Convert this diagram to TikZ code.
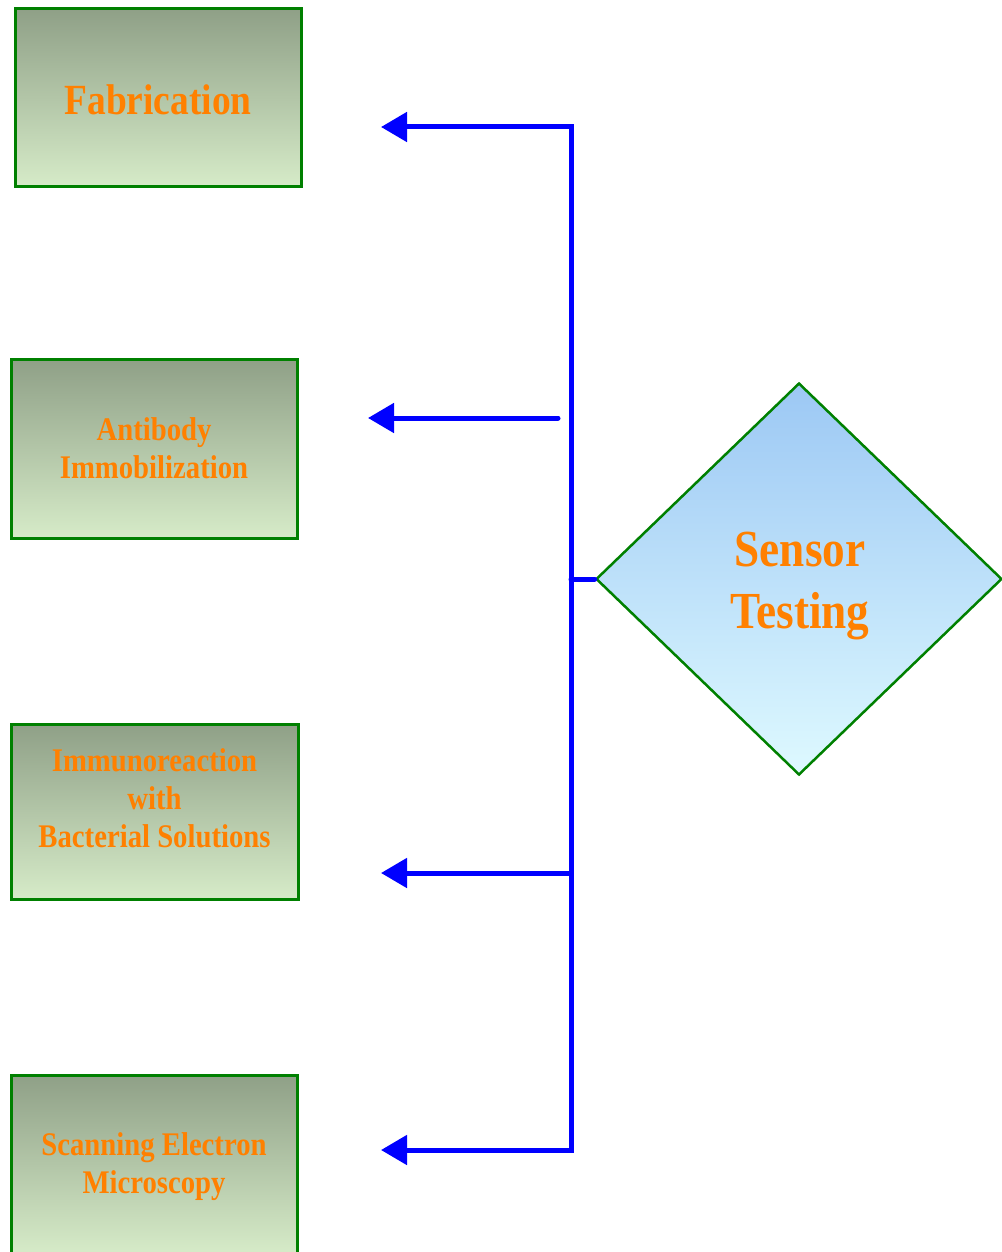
\documentclass[tikz,border=0pt]{standalone}
\usepackage{fontspec}
\usetikzlibrary{shapes.geometric,arrows.meta}
\newfontfamily\lblfont{Liberation Serif}[FakeStretch=0.87]
\definecolor{boxgreen}{RGB}{0,128,0}
\definecolor{boxtop}{RGB}{143,160,135}
\definecolor{boxbot}{RGB}{214,235,200}
\definecolor{diatop}{RGB}{156,200,244}
\definecolor{diabot}{RGB}{222,249,255}
\definecolor{lbl}{RGB}{255,128,0}
\definecolor{flow}{RGB}{0,0,255}
\tikzset{
  stepbox/.style={rectangle, draw=boxgreen, line width=3pt,
    top color=boxtop, bottom color=boxbot, inner sep=0pt,
    minimum width=286pt, align=center, text=lbl,
    font=\lblfont\bfseries\fontsize{33}{38}\selectfont},
  bigtext/.style={font=\lblfont\bfseries\fontsize{43}{52}\selectfont},
  decision/.style={diamond, draw=boxgreen, line width=2.5pt,
    top color=diatop, bottom color=diabot, inner sep=0pt,
    minimum width=406pt, minimum height=392pt},
  txt/.style={align=center, text=lbl, inner sep=0pt,
    font=\lblfont\bfseries\fontsize{33}{38}\selectfont},
  bigtxt/.style={align=center, text=lbl, inner sep=0pt,
    font=\lblfont\bfseries\fontsize{52}{62}\selectfont},
  flowline/.style={draw=flow, line width=5pt, line cap=round, line join=miter},
  tip/.style={-{Triangle[length=26pt,width=29pt]}},
}
\begin{document}
\begin{tikzpicture}[x=1pt,y=-1pt]
\useasboundingbox (0,0) rectangle (1001,1252);

% process steps
\node[stepbox, minimum height=178pt, bigtext] (fab) at (158,98) {};
\node[txt, bigtext] (fabtxt) at (158,100) {Fabrication};
\node[stepbox, minimum height=179pt] (anti) at (154,448.5) {Antibody\\Immobilization};
\node[stepbox, minimum height=175pt, minimum width=287pt] (immu) at (154.5,811.5) {};
\node[txt] (immutxt) at (154.5,798) {Immunoreaction\\with\\Bacterial Solutions};
\node[stepbox, minimum height=178pt] (sem) at (154,1164) {};
\node[txt] (semtxt) at (154,1167) {Scanning Electron\\Microscopy};

% testing decision
\node[decision] (test) at (799,579) {};
\node[bigtxt] (testtxt) at (800,586) {Sensor\\Testing};

% bus and branches
\coordinate (j1) at (571,127);
\coordinate (j3) at (571,873);
\coordinate (j4) at (571,1150);
\coordinate (jt) at (571,579);
\coordinate (s2) at (558,418);
\coordinate (t1) at (381,127);
\coordinate (t2) at (368,418);
\coordinate (t3) at (381,873);
\coordinate (t4) at (381,1150);

\draw[flowline, {Triangle[length=26pt,width=29pt]}-{Triangle[length=26pt,width=29pt]}]
  (t4) -- (j4) -- (j1) -- (t1);
\draw[flowline, tip] (s2) -- (t2);
\draw[flowline, tip] (j3) -- (t3);
\draw[flowline] (jt) -- (test.west);
\end{tikzpicture}
\end{document}
